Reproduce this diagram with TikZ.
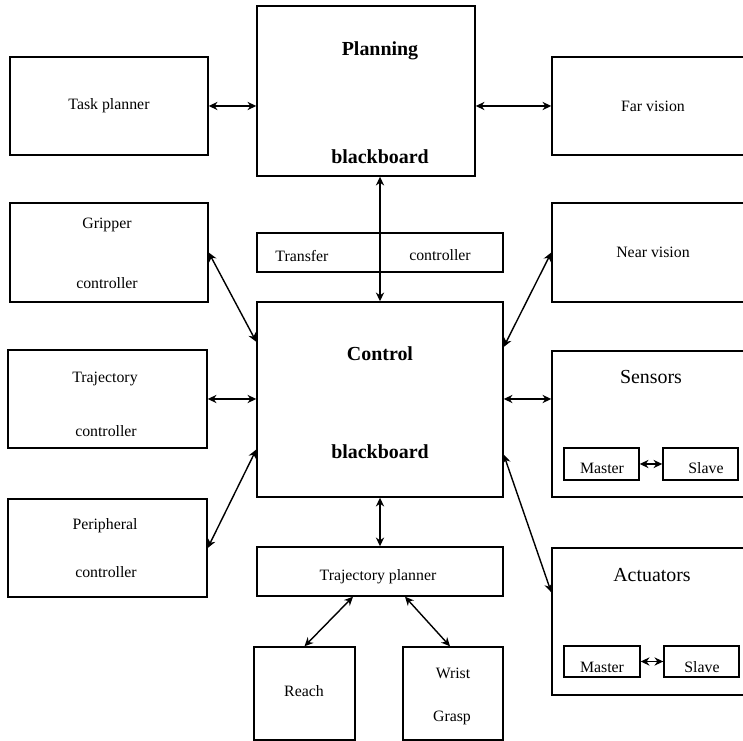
\documentclass[tikz,border=0pt]{standalone}
\usepackage{fontspec}
\setmainfont{Liberation Serif}
\usetikzlibrary{arrows.meta,positioning,calc}

\begin{document}
\begin{tikzpicture}[
    x=0.03cm, y=-0.03cm,
    box/.style={draw, line width=1.2pt, inner sep=0pt, font=\fontsize{13.5}{16}\selectfont},
    txt/.style={anchor=base, inner sep=0pt, font=\fontsize{13.5}{16}\selectfont},
    bold/.style={anchor=base, inner sep=0pt, font=\fontsize{17}{20}\selectfont\bfseries},
    head/.style={anchor=base, inner sep=0pt, font=\fontsize{17}{20}\selectfont},
    link/.style={<->, line width=1.2pt, >={Stealth[length=7.5pt,width=7pt]}}
]
    \clip (0,0) rectangle (743,741);

    % Blackboards
    \node[box, minimum width=6.54cm, minimum height=5.1cm] (planbb) at (366,91) {};
    \node[box, minimum width=7.38cm, minimum height=1.17cm] (transc) at (380,252.5) {};
    \node[box, minimum width=7.38cm, minimum height=5.85cm] (ctrlbb) at (380,399.5) {};
    \node[bold] (planlbl) at (380,56) {Planning};
    \node[bold] (planlbl2) at (380,164) {blackboard};
    \node[txt] (translbl) at (302,262) {Transfer};
    \node[txt] (translbl2) at (440,261) {controller};
    \node[bold] (ctrllbl) at (380,361) {Control};
    \node[bold] (ctrllbl2) at (380,459) {blackboard};

    % Left column
    \node[box, minimum width=5.94cm, minimum height=2.94cm] (taskp) at (109,106) {Task planner};
    \node[box, minimum width=5.94cm, minimum height=2.97cm] (gripc) at (109,252.5) {};
    \node[box, minimum width=5.97cm, minimum height=2.94cm] (trajc) at (107.5,399) {};
    \node[box, minimum width=5.97cm, minimum height=2.94cm] (periph) at (107.5,548) {};
    \node[txt] (griplbl) at (107,229) {Gripper};
    \node[txt] (griplbl2) at (107,289) {controller};
    \node[txt] (trajlbl) at (105,383) {Trajectory};
    \node[txt] (trajlbl2) at (106,437) {controller};
    \node[txt] (periphlbl) at (105,530) {Peripheral};
    \node[txt] (periphlbl2) at (106,578) {controller};

    % Right column
    \node[box, minimum width=6.06cm, minimum height=2.94cm] (farv) at (653,106) {Far vision};
    \node[box, minimum width=6.06cm, minimum height=2.97cm] (nearv) at (653,252.5) {Near vision};
    \node[box, minimum width=6.06cm, minimum height=4.38cm] (sens) at (653,424) {};
    \node[box, minimum width=6.06cm, minimum height=4.41cm] (act) at (653,621.5) {};
    \node[head] (senslbl) at (651,384) {Sensors};
    \node[head] (actlbl) at (652,582) {Actuators};
    \node[box, minimum width=2.25cm, minimum height=0.96cm] (smaster) at (601.5,464) {};
    \node[box, minimum width=2.25cm, minimum height=0.96cm] (sslave) at (700.5,464) {};
    \node[box, minimum width=2.28cm, minimum height=0.93cm] (amaster) at (602,661.5) {};
    \node[box, minimum width=2.25cm, minimum height=0.93cm] (aslave) at (701.5,661.5) {};
    \node[txt] (smlbl) at (602,474) {Master};
    \node[txt] (sslbl) at (706,474) {Slave};
    \node[txt] (amlbl) at (602,673) {Master};
    \node[txt] (aslbl) at (702,673) {Slave};

    % Bottom
    \node[box, minimum width=7.38cm, minimum height=1.47cm] (tplan) at (380,571.5) {};
    \node[txt] (tplanlbl) at (378,581) {Trajectory planner};
    \node[box, minimum width=3.03cm, minimum height=2.79cm] (reach) at (304.5,693.5) {};
    \node[box, minimum width=3.0cm, minimum height=2.79cm] (wrist) at (453,693.5) {};
    \node[txt] (reachlbl) at (304,697) {Reach};
    \node[txt] (wristlbl) at (453,679) {Wrist};
    \node[txt] (wristlbl2) at (452,722) {Grasp};

    % Links
    \draw[link] (taskp.east) -- (taskp.east -| planbb.west);
    \draw[link] (farv.west -| planbb.east) -- (farv.west);
    \draw[link] (planbb.south -| ctrlbb.north) -- (ctrlbb.north);
    \draw[link] (gripc.east) -- (ctrlbb.155);
    \draw[link] (trajc.east) -- (trajc.east -| ctrlbb.west);
    \draw[link] (periph.east) -- (ctrlbb.202);
    \draw[link] (nearv.west) -- (ctrlbb.23);
    \draw[link] (sens.west |- trajc.east) -- (ctrlbb.east |- trajc.east);
    \draw[link] (act.164) -- (ctrlbb.336);
    \draw[link] (ctrlbb.south) -- (tplan.north);
    \draw[link] ([xshift=-0.81cm]tplan.south) -- (reach.north);
    \draw[link] ([xshift=0.75cm]tplan.south) -- ([xshift=-0.09cm]wrist.north);
    \draw[link] (smaster.east) -- (sslave.west);
    \draw[link] (amaster.east) -- (aslave.west);
\end{tikzpicture}
\end{document}
